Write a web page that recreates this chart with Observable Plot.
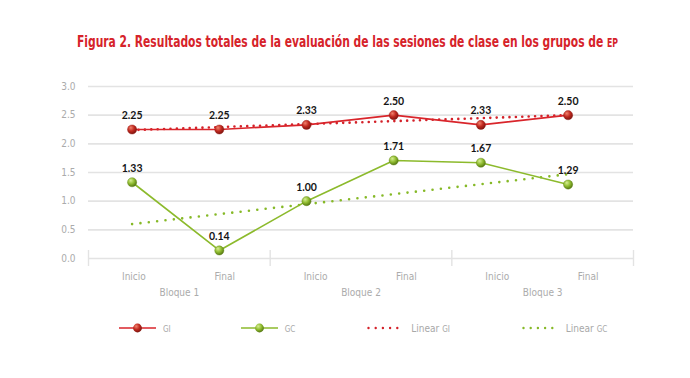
<!DOCTYPE html>
<html>
<head>
<meta charset="utf-8">
<script src="https://cdn.jsdelivr.net/npm/d3@7"></script>
<script src="https://cdn.jsdelivr.net/npm/@observablehq/plot@0.6"></script>
<style>
  body { margin: 0; background: #fff; width: 690px; }
  #title { position: relative; height: 52px; white-space: nowrap; }
  #title span.t { position: absolute; left: 77px; top: 32px; line-height: 20px; display: inline-block; transform-origin: left center;
    font-family: "Liberation Sans Narrow", "DejaVu Sans Condensed", "Roboto", sans-serif;
    font-weight: bold; font-size: 16.5px; color: #d6232a; }
  #title .sc { font-size: 12px; }
  #legend { display: flex; align-items: center; margin-top: 11px; height: 20px; padding-left: 119px;
    font-family: "Liberation Sans Narrow", "DejaVu Sans Condensed", sans-serif; font-size: 10px; color: #a8a8a8; }
  #legend .item { display: flex; align-items: center; }
  #legend .sc { font-size: 8px; }
  #legend svg { margin-right: 7px; }
</style>
</head>
<body>
<div id="title"></div>
<div id="chart"></div>
<div id="legend"></div>
<script>
// ---- data ----
const blocks = ["Bloque 1", "Bloque 2", "Bloque 3"];
const phases = ["Inicio", "Final"];
const GI = [2.25, 2.25, 2.33, 2.50, 2.33, 2.50];
const GC = [1.33, 0.14, 1.00, 1.71, 1.67, 1.29];
// trend line end values as drawn in the figure (first and last session)
const trendGI = [2.24, 2.50];
const trendGC = [0.60, 1.47];
const yTicks = [0, 0.5, 1.0, 1.5, 2.0, 2.5, 3.0];
const seriesNames = ["GI", "GC", "Linear GI", "Linear GC"];

const red = "#d9252b", green = "#8cba2c";

// title
document.getElementById("title").innerHTML =
  "<span class='t'>Figura 2. Resultados totales de la evaluación de las sesiones de clase en los grupos de <span class='sc'>EP</span></span>";
{
  const t = document.querySelector("#title span.t");
  const w = t.getBoundingClientRect().width;
  const target = 541;
  t.style.transform = `scaleX(${Math.min(1, target / w)})`;
}

const sessions = blocks.flatMap((b, bi) => phases.map((p, pi) => ({block: b, phase: p, i: bi * 2 + pi})));
const giData = sessions.map((s, k) => ({...s, v: GI[k]}));
const gcData = sessions.map((s, k) => ({...s, v: GC[k]}));
const last = sessions.length - 1;
const tGI = [{i: 0, v: trendGI[0]}, {i: last, v: trendGI[1]}];
const tGC = [{i: 0, v: trendGC[0]}, {i: last, v: trendGC[1]}];

const xDomain = [-0.5, 5.75];
const nBands = sessions.length;
const bw = (xDomain[1] - xDomain[0]) / nBands;
const catLabels = sessions.map((s, j) => ({x: xDomain[0] + bw * (j + 0.5), text: s.phase}));
const blockLabels = blocks.map((b, k) => ({x: xDomain[0] + bw * (2 * k + 1), text: b}));
const seps = d3.range(blocks.length + 1).map(k => xDomain[0] + bw * 2 * k);

const font = "'Liberation Sans Narrow', 'DejaVu Sans Condensed', sans-serif";
const fmt = d3.format(".2f");

const svg = Plot.plot({
  width: 690, height: 255,
  marginLeft: 88, marginRight: 57, marginTop: 34, marginBottom: 49,
  style: {fontFamily: font, background: "white"},
  x: {type: "linear", domain: xDomain, axis: null},
  y: {domain: [0, 3], axis: null},
  marks: [
    Plot.ruleY(yTicks, {stroke: "#e3e3e3", strokeWidth: 1.6}),
    Plot.ruleX(seps, {y1: 0, y2: 0, insetTop: -8, insetBottom: -8, stroke: "#e3e3e3", strokeWidth: 1.4}),
    Plot.text(yTicks, {x: xDomain[0], y: d => d, text: d => d.toFixed(1), textAnchor: "end", dx: -13, fill: "#ababab", fontSize: 10}),
    Plot.text(catLabels, {x: "x", y: 0, text: "text", dy: 18, fill: "#ababab", fontSize: 10}),
    Plot.text(blockLabels, {x: "x", y: 0, text: "text", dy: 34, fill: "#ababab", fontSize: 10}),
    Plot.line(tGI, {x: "i", y: "v", stroke: "#d42129", strokeWidth: 2.6, strokeDasharray: "0 6.4", strokeLinecap: "round"}),
    Plot.line(tGC, {x: "i", y: "v", stroke: "#86b927", strokeWidth: 2.6, strokeDasharray: "0 8.4", strokeLinecap: "round"}),
    Plot.line(giData, {x: "i", y: "v", stroke: red, strokeWidth: 1.6}),
    Plot.line(gcData, {x: "i", y: "v", stroke: green, strokeWidth: 1.6}),
    Plot.dot(giData, {x: "i", y: "v", r: 4.6, fill: "url(#gradGI)", stroke: "#9b1c16", strokeWidth: 0.4}),
    Plot.dot(gcData, {x: "i", y: "v", r: 4.6, fill: "url(#gradGC)", stroke: "#5f8415", strokeWidth: 0.4}),
    Plot.text(giData, {x: "i", y: "v", text: d => fmt(d.v), dy: -14, fontWeight: "bold", fontSize: 10.5, fill: "#151515", fontFamily: "Lato, 'Open Sans', sans-serif"}),
    Plot.text(gcData, {x: "i", y: "v", text: d => fmt(d.v), dy: -14, fontWeight: "bold", fontSize: 10.5, fill: "#151515", fontFamily: "Lato, 'Open Sans', sans-serif"})
  ]
});

function addGrad(sel, id, c0, c1, c2) {
  const g = sel.append("radialGradient").attr("id", id).attr("cx", "40%").attr("cy", "35%").attr("r", "65%").attr("fx", "35%").attr("fy", "30%");
  g.append("stop").attr("offset", "0%").attr("stop-color", c0);
  g.append("stop").attr("offset", "55%").attr("stop-color", c1);
  g.append("stop").attr("offset", "100%").attr("stop-color", c2);
}
const defs = d3.select(svg).insert("defs", ":first-child");
addGrad(defs, "gradGI", "#f2836f", "#c0291f", "#7d150f");
addGrad(defs, "gradGC", "#d6ee93", "#8fbb2f", "#557812");
document.getElementById("chart").appendChild(svg);

// legend (HTML)
const legend = d3.select("#legend");
const ldefs = legend.append("svg").attr("width", 0).attr("height", 0).style("position", "absolute").append("defs");
addGrad(ldefs, "lgGI", "#f2836f", "#c0291f", "#7d150f");
addGrad(ldefs, "lgGC", "#d6ee93", "#8fbb2f", "#557812");
const gaps = [0, 70, 72, 72];
seriesNames.forEach((name, k) => {
  const item = legend.append("div").attr("class", "item").style("margin-left", gaps[k] + "px");
  const s = item.append("svg").attr("width", 37).attr("height", 12);
  const col = k % 2 === 0 ? "#d42129" : "#86b927";
  if (k < 2) {
    s.append("line").attr("x1", 0).attr("x2", 37).attr("y1", 6).attr("y2", 6).attr("stroke", k === 0 ? red : green).attr("stroke-width", 1.6);
    s.append("circle").attr("cx", 18.5).attr("cy", 6).attr("r", 4.4).attr("fill", k === 0 ? "url(#lgGI)" : "url(#lgGC)");
  } else {
    s.append("line").attr("x1", 1.5).attr("x2", 37).attr("y1", 6).attr("y2", 6).attr("stroke", col)
      .attr("stroke-width", 2.4).attr("stroke-dasharray", "0 7.2").attr("stroke-linecap", "round");
  }
  const parts = name.split(" ");
  const lab = item.append("span");
  if (parts.length > 1) lab.append("span").text(parts[0] + " ");
  lab.append("span").attr("class", "sc").text(parts[parts.length - 1]);
});
</script>
</body>
</html>
